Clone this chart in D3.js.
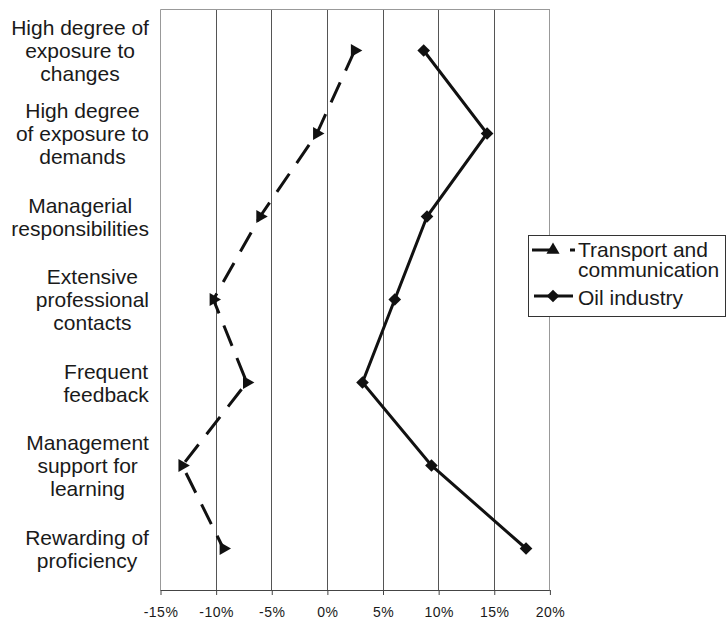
<!DOCTYPE html>
<html>
<head>
<meta charset="utf-8">
<script src="https://cdn.jsdelivr.net/npm/d3@7"></script>
<style>
  body { margin: 0; background: #fff; }
  text { font-family: "Liberation Sans", Arial, sans-serif; fill: #1a1a1a; }
</style>
</head>
<body>
<script>
var w = 727;
var h = 620;

// category labels, already broken into lines like the original
var categories = [
    ["High degree of", "exposure to", "changes"],
    ["High degree", "of exposure to", "demands"],
    ["Managerial", "responsibilities"],
    ["Extensive", "professional", "contacts"],
    ["Frequent", "feedback"],
    ["Management", "support for", "learning"],
    ["Rewarding of", "proficiency"]
];
var transport = [0.025, -0.009, -0.060, -0.102, -0.072, -0.130, -0.093];
var oil = [0.087, 0.144, 0.090, 0.061, 0.032, 0.094, 0.179];
var xTicks = [-0.15, -0.10, -0.05, 0, 0.05, 0.10, 0.15, 0.20];
var seriesNames = [["Transport and", "communication"], ["Oil industry"]];

// plot box (note: "top" is taken by window.top)
var plotLeft = 160, plotRight = 549.4, plotTop = 9, plotBottom = 590;

var xScale = d3.scaleLinear()
    .domain([-0.15, 0.20])
    .range([plotLeft, plotRight]);

var yScale = d3.scaleBand()
    .domain(d3.range(categories.length))
    .range([plotTop, plotBottom]);

var yMid = i => yScale(i) + yScale.bandwidth() / 2;

var svg = d3.select("body")
    .append("svg")
    .attr("width", w)
    .attr("height", h);

// vertical gridlines
svg.selectAll("line.grid")
    .data(xTicks.slice(1))
    .enter()
    .append("line")
    .attr("class", "grid")
    .attr("x1", d => Math.round(xScale(d)) + 0.5)
    .attr("x2", d => Math.round(xScale(d)) + 0.5)
    .attr("y1", plotTop)
    .attr("y2", plotBottom)
    .attr("stroke", (d, i) => i == xTicks.length - 2 ? "#999" : "#555")
    .attr("stroke-width", 1);

// left and top border
svg.append("path")
    .attr("d", `M${plotLeft + 0.5},${plotBottom} V${plotTop + 0.5} H${Math.round(plotRight) + 0.5}`)
    .attr("fill", "none")
    .attr("stroke", "#999");

// x axis
var xAxis = d3.axisBottom(xScale)
    .tickValues(xTicks)
    .tickSize(5)
    .tickFormat(d => Math.round(d * 100) + "%");

var gx = svg.append("g")
    .attr("transform", `translate(0.5,${plotBottom})`)
    .call(xAxis);
gx.select(".domain").attr("stroke", "#444").attr("d", `M${plotLeft},0.5 H${plotRight}`);
gx.selectAll(".tick line").attr("stroke", "#444");
gx.selectAll(".tick text")
    .attr("y", 27)
    .attr("dy", 0)
    .style("font-size", "14px")
    .style("letter-spacing", "0.5px")
    .style("font-family", "Liberation Sans, Arial, sans-serif")
    .attr("fill", "#1a1a1a");

// category labels: lines centred, block right-aligned to the axis
var lineH = 23;
var catG = svg.selectAll("g.cat")
    .data(categories)
    .enter()
    .append("g")
    .attr("class", "cat");

catG.each(function(lines, i) {
    var g = d3.select(this);
    var t = g.append("text")
        .style("font-size", "21px")
        .attr("text-anchor", "middle");
    t.selectAll("tspan")
        .data(lines)
        .enter()
        .append("tspan")
        .attr("x", 0)
        .attr("y", (d, j) => (j - (lines.length - 1) / 2) * lineH + 7.5)
        .text(d => d);
    var bw = t.node().getBBox().width;
    g.attr("transform", `translate(${149 - bw / 2},${yMid(i)})`);
});

var line = d3.line()
    .x(d => xScale(d))
    .y((d, i) => yMid(i));

// transport: dashed line with right pointing triangles
svg.append("path")
    .datum(transport)
    .attr("d", line)
    .attr("fill", "none")
    .attr("stroke", "#111")
    .attr("stroke-width", 3)
    .attr("stroke-dasharray", "22,13");

var tri = d3.symbol().type(d3.symbolTriangle).size(75);
svg.selectAll("path.tri")
    .data(transport)
    .enter()
    .append("path")
    .attr("class", "tri")
    .attr("d", tri)
    .attr("fill", "#111")
    .attr("transform", (d, i) => `translate(${xScale(d)},${yMid(i)}) rotate(90)`);

// oil: solid line with diamonds
svg.append("path")
    .datum(oil)
    .attr("d", line)
    .attr("fill", "none")
    .attr("stroke", "#111")
    .attr("stroke-width", 3);

var dia = d3.symbol().type(d3.symbolSquare).size(80);
svg.selectAll("path.dia")
    .data(oil)
    .enter()
    .append("path")
    .attr("class", "dia")
    .attr("d", dia)
    .attr("fill", "#111")
    .attr("transform", (d, i) => `translate(${xScale(d)},${yMid(i)}) rotate(45)`);

// legend
var legend = svg.append("g");
legend.append("rect")
    .attr("x", 528.5)
    .attr("y", 235.5)
    .attr("width", 197)
    .attr("height", 81)
    .attr("fill", "#fff")
    .attr("stroke", "#333");

legend.append("line")
    .attr("x1", 532).attr("x2", 575)
    .attr("y1", 250).attr("y2", 250)
    .attr("stroke", "#111")
    .attr("stroke-width", 3)
    .attr("stroke-dasharray", "21,17");
legend.append("path")
    .attr("d", tri)
    .attr("fill", "#111")
    .attr("transform", "translate(553,250)");

legend.append("line")
    .attr("x1", 534).attr("x2", 573)
    .attr("y1", 296).attr("y2", 296)
    .attr("stroke", "#111")
    .attr("stroke-width", 3);
legend.append("path")
    .attr("d", dia)
    .attr("fill", "#111")
    .attr("transform", "translate(553,296) rotate(45)");

var lt = legend.append("text")
    .style("font-size", "21px");
lt.selectAll("tspan")
    .data(seriesNames[0])
    .enter()
    .append("tspan")
    .attr("x", 578)
    .attr("y", (d, i) => 257 + i * 20)
    .text(d => d);
legend.append("text")
    .attr("x", 578)
    .attr("y", 305)
    .style("font-size", "21px")
    .text(seriesNames[1][0]);
</script>
</body>
</html>
